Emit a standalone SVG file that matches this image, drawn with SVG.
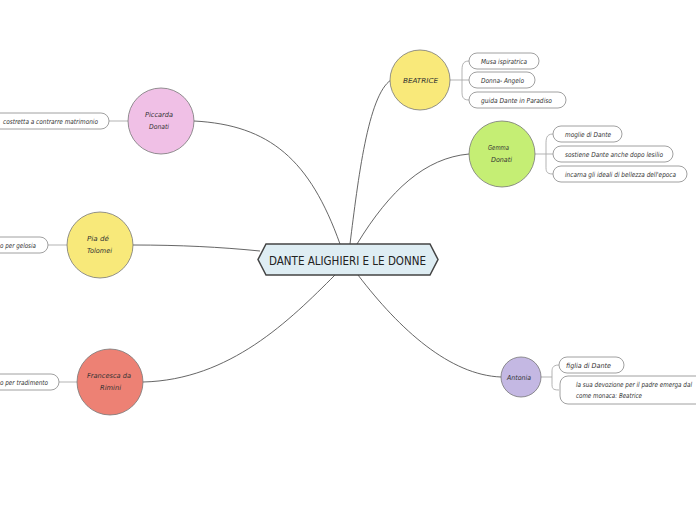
<svg xmlns="http://www.w3.org/2000/svg" width="696" height="520" viewBox="0 0 696 520">
<style>
.c{stroke:#777;stroke-width:0.8}
.conn{fill:none;stroke:#555;stroke-width:0.9}
.br{fill:none;stroke:#aaa;stroke-width:0.9}
.leaf{fill:#fff;stroke:#888;stroke-width:0.8}
.t{font-family:"DejaVu Sans Condensed","DejaVu Sans",sans-serif;font-style:italic;font-size:6.8px;fill:#333}
.ct{font-family:"DejaVu Sans Condensed","DejaVu Sans",sans-serif;font-size:12.5px;fill:#222}
</style>
<rect width="696" height="520" fill="#fff"/>
<g id="connectors">
<path class="conn" d="M350,244 C358,180 368,95 391,80"/>
<path class="conn" d="M357,244 C390,190 425,158 469,154"/>
<path class="conn" d="M194,121 C270,125 310,160 340,244"/>
<path class="conn" d="M133,245 C180,245 220,247 260,251"/>
<path class="conn" d="M143,382 C230,380 290,320 335,275"/>
<path class="conn" d="M358,275 C400,330 450,375 501,377"/>
<path class="br" d="M450,80 H462 M469,61 C462,61 462,66 462,72 V90 C462,96 462,100 469,100 M462,80 H469"/>
<path class="br" d="M535,154 H546 M553,134 C546,134 546,139 546,145 V166 C546,171 546,174 553,174 M546,154 H553"/>
<path class="br" d="M541,377 H552 M559,365 C552,365 552,369 552,372 V383 C552,388 552,390 559,390"/>
<path class="br" d="M109,121 H128"/>
<path class="br" d="M48,245 H67"/>
<path class="br" d="M59,382 H77"/>
</g>
<g id="center">
<polygon points="266,244 430,244 438,259.5 430,275 266,275 258,259.5" fill="#deedf3" stroke="#444" stroke-width="1.5"/>
<text class="ct" x="269" y="264.5" textLength="157" lengthAdjust="spacingAndGlyphs">DANTE ALIGHIERI E LE DONNE</text>
</g>
<g id="beatrice">
<circle class="c" cx="420" cy="80" r="30" fill="#f9e97a"/>
<text class="t" x="403" y="82.5" textLength="35" lengthAdjust="spacingAndGlyphs">BEATRICE</text>
</g>
<g id="beatrice-leaves">
<rect class="leaf" x="469" y="53" width="70" height="16" rx="8"/>
<text class="t" x="481" y="63.5" textLength="46" lengthAdjust="spacingAndGlyphs">Musa ispiratrica</text>
<rect class="leaf" x="469" y="72" width="66" height="16" rx="8"/>
<text class="t" x="481" y="82.5" textLength="43" lengthAdjust="spacingAndGlyphs">Donna- Angelo</text>
<rect class="leaf" x="469" y="92" width="97" height="16" rx="8"/>
<text class="t" x="481" y="102.5" textLength="71" lengthAdjust="spacingAndGlyphs">guida Dante in Paradiso</text>
</g>
<g id="gemma">
<circle class="c" cx="502" cy="154" r="33" fill="#c5ee74"/>
<text class="t" x="488" y="150" textLength="21" lengthAdjust="spacingAndGlyphs">Gemma</text>
<text class="t" x="491" y="162" textLength="21" lengthAdjust="spacingAndGlyphs">Donati</text>
</g>
<g id="gemma-leaves">
<rect class="leaf" x="553" y="126" width="69" height="16" rx="8"/>
<text class="t" x="565" y="136.5" textLength="46" lengthAdjust="spacingAndGlyphs">moglie di Dante</text>
<rect class="leaf" x="553" y="146" width="120" height="16" rx="8"/>
<text class="t" x="565" y="156.5" textLength="98" lengthAdjust="spacingAndGlyphs">sostiene Dante anche dopo lesilio</text>
<rect class="leaf" x="553" y="166" width="134" height="16" rx="8"/>
<text class="t" x="565" y="176.5" textLength="111" lengthAdjust="spacingAndGlyphs">incarna gli ideali di bellezza dell'epoca</text>
</g>
<g id="antonia">
<circle class="c" cx="521" cy="377" r="20" fill="#c4b8e3"/>
<text class="t" x="507" y="380" textLength="24" lengthAdjust="spacingAndGlyphs">Antonia</text>
</g>
<g id="antonia-leaves">
<rect class="leaf" x="559" y="357" width="65" height="16" rx="8"/>
<text class="t" x="566" y="367.5" textLength="45" lengthAdjust="spacingAndGlyphs">figlia di Dante</text>
<rect class="leaf" x="560" y="376" width="150" height="28" rx="8"/>
<text class="t" x="576" y="387" textLength="116" lengthAdjust="spacingAndGlyphs">la sua devozione per il padre emerga dal</text>
<text class="t" x="576" y="398" textLength="66" lengthAdjust="spacingAndGlyphs">come monaca: Beatrice</text>
</g>
<g id="piccarda">
<circle class="c" cx="161" cy="121" r="33" fill="#f0c0e6"/>
<text class="t" x="145" y="117" textLength="28" lengthAdjust="spacingAndGlyphs">Piccarda</text>
<text class="t" x="149" y="129" textLength="20" lengthAdjust="spacingAndGlyphs">Donati</text>
<rect class="leaf" x="-10" y="113" width="119" height="16" rx="8"/>
<text class="t" x="3" y="123.5" textLength="95" lengthAdjust="spacingAndGlyphs">costretta a contrarre matrimonio</text>
</g>
<g id="pia">
<circle class="c" cx="100" cy="245" r="33" fill="#f8e97a"/>
<text class="t" x="87" y="241" textLength="22" lengthAdjust="spacingAndGlyphs">Pia dé</text>
<text class="t" x="87" y="253" textLength="25" lengthAdjust="spacingAndGlyphs">Tolomei</text>
<rect class="leaf" x="-10" y="237" width="58" height="16" rx="8"/>
<text class="t" x="0" y="247.5" textLength="36" lengthAdjust="spacingAndGlyphs">o per gelosia</text>
</g>
<g id="francesca">
<circle class="c" cx="110" cy="382" r="33" fill="#ed8174"/>
<text class="t" x="87" y="378" textLength="44" lengthAdjust="spacingAndGlyphs">Francesca da</text>
<text class="t" x="100" y="390" textLength="21" lengthAdjust="spacingAndGlyphs">Rimini</text>
<rect class="leaf" x="-10" y="374" width="69" height="16" rx="8"/>
<text class="t" x="0" y="384.5" textLength="48" lengthAdjust="spacingAndGlyphs">o per tradimento</text>
</g>
</svg>
